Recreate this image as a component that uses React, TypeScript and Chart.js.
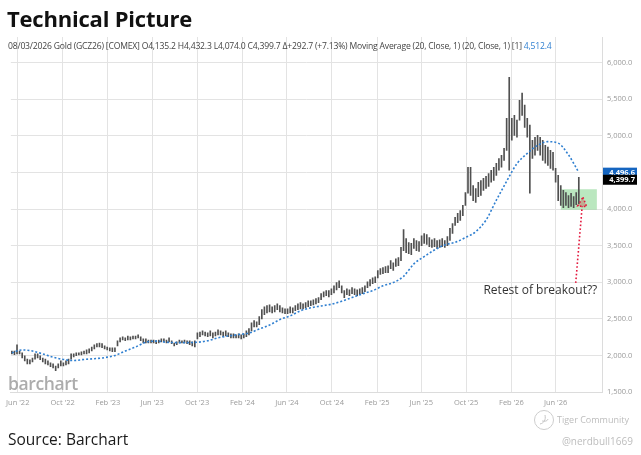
import React, { useEffect, useRef } from 'react';
import { Chart, registerables } from 'chart.js';

Chart.register(...registerables);

// ---------- data ----------
const START_DATE = '2022-05-16'; // week of the first bar
const tickDates = ['2022-06-01', '2022-10-01', '2023-02-01', '2023-06-01', '2023-10-01', '2024-02-01', '2024-06-01', '2024-10-01', '2025-02-01', '2025-06-01', '2025-10-01', '2026-02-01', '2026-06-01'];
const tickLabels = ["Jun '22", "Oct '22", "Feb '23", "Jun '23", "Oct '23", "Feb '24", "Jun '24", "Oct '24", "Feb '25", "Jun '25", "Oct '25", "Feb '26", "Jun '26"];
const priceTicks = [1500, 2000, 2500, 3000, 3500, 4000, 4500, 5000, 5500, 6000];

// weekly highs / lows (GCZ26)
const highs = [
  2060, 2060, 2145, 2060, 2035, 1995, 1950, 1940, 1965, 2020,
  2020, 1995, 1965, 1950, 1925, 1900, 1885, 1855, 1885, 1925,
  1900, 1925, 1950, 2020, 2020, 2035, 2035, 2050, 2060, 2075,
  2090, 2115, 2145, 2160, 2170, 2160, 2130, 2115, 2105, 2105,
  2105, 2200, 2240, 2255, 2240, 2265, 2255, 2265, 2265, 2280,
  2255, 2225, 2225, 2210, 2210, 2210, 2200, 2210, 2225, 2225,
  2210, 2240, 2200, 2170, 2185, 2210, 2200, 2210, 2200, 2200,
  2185, 2200, 2310, 2320, 2335, 2320, 2310, 2335, 2310, 2320,
  2350, 2335, 2320, 2335, 2310, 2295, 2295, 2280, 2295, 2280,
  2295, 2335, 2365, 2445, 2475, 2460, 2530, 2625, 2665, 2680,
  2690, 2665, 2680, 2705, 2680, 2650, 2635, 2635, 2665, 2650,
  2680, 2705, 2720, 2705, 2720, 2745, 2745, 2760, 2775, 2790,
  2845, 2870, 2885, 2885, 2910, 2950, 2995, 3020, 2950, 2885,
  2910, 2895, 2925, 2910, 2895, 2910, 2925, 2950, 3005, 3035,
  3060, 3075, 3160, 3185, 3200, 3215, 3225, 3295, 3265, 3320,
  3335, 3475, 3720, 3595, 3540, 3530, 3595, 3570, 3555, 3635,
  3665, 3650, 3610, 3580, 3595, 3570, 3580, 3595, 3570, 3625,
  3735, 3800, 3885, 3940, 3980, 4050, 4225, 4570, 4570, 4320,
  4280, 4365, 4390, 4420, 4445, 4485, 4530, 4570, 4625, 4690,
  4735, 4830, 5240, 5800, 5240, 5280, 5215, 5485, 5585, 5420,
  5240, 5145, 4940, 4980, 5005, 4980, 4940, 4870, 4845, 4800,
  4775, 4555, 4460, 4320, 4255, 4225, 4185, 4215, 4170, 4225,
  4432.3,
];
const lows = [
  2020, 2010, 2020, 2020, 1965, 1925, 1885, 1885, 1910, 1950,
  1965, 1940, 1910, 1885, 1870, 1845, 1830, 1790, 1830, 1855,
  1855, 1870, 1885, 1950, 1980, 1995, 2005, 2005, 2020, 2020,
  2035, 2060, 2090, 2115, 2115, 2105, 2090, 2075, 2060, 2050,
  2050, 2130, 2185, 2210, 2200, 2210, 2210, 2225, 2225, 2240,
  2200, 2170, 2170, 2170, 2170, 2170, 2160, 2170, 2185, 2185,
  2170, 2185, 2160, 2130, 2145, 2170, 2170, 2170, 2160, 2145,
  2130, 2115, 2225, 2255, 2280, 2265, 2255, 2265, 2240, 2265,
  2280, 2280, 2255, 2265, 2255, 2240, 2240, 2240, 2240, 2225,
  2240, 2255, 2280, 2335, 2390, 2390, 2420, 2500, 2555, 2580,
  2595, 2580, 2595, 2625, 2595, 2580, 2570, 2570, 2580, 2580,
  2610, 2625, 2635, 2635, 2650, 2665, 2680, 2690, 2705, 2720,
  2760, 2800, 2815, 2800, 2830, 2855, 2895, 2925, 2855, 2790,
  2830, 2815, 2845, 2830, 2815, 2830, 2845, 2870, 2925, 2950,
  2980, 2995, 3060, 3105, 3115, 3130, 3130, 3185, 3160, 3215,
  3225, 3295, 3430, 3405, 3390, 3375, 3460, 3430, 3420, 3500,
  3530, 3515, 3485, 3475, 3485, 3460, 3475, 3485, 3475, 3500,
  3570, 3665, 3775, 3815, 3845, 3910, 4050, 4215, 4185, 4115,
  4090, 4170, 4185, 4255, 4280, 4310, 4365, 4390, 4460, 4530,
  4570, 4665, 4800, 4530, 4940, 5005, 4980, 5215, 5280, 5115,
  4980, 4215, 4690, 4735, 4800, 4735, 4665, 4625, 4595, 4555,
  4530, 4365, 4115, 4050, 4020, 4050, 4020, 4035, 4020, 4060,
  4074.0,
];

// 20-week moving average, read at every 4th week
const maWeeks = [0, 4, 8, 12, 16, 20, 24, 28, 32, 36, 40, 44, 48, 52, 56, 60, 64, 68, 72, 76, 80, 84, 88, 92, 96, 100, 104, 108, 112, 116, 120, 124, 128, 132, 136, 140, 144, 148, 152, 156, 160, 164, 168, 172, 176, 180, 184, 188, 192, 196, 200, 204, 208, 212, 216, 220];
const maValues = [
  2035, 2075, 2060, 2020, 1975, 1945, 1930, 1945, 1955, 1970,
  2000, 2060, 2115, 2180, 2195, 2180, 2175, 2175, 2180, 2200,
  2240, 2265, 2285, 2305, 2360, 2415, 2490, 2540, 2610, 2650,
  2675, 2700, 2740, 2790, 2840, 2885, 2950, 2995, 3080, 3250,
  3350, 3440, 3510, 3545, 3610, 3690, 3850, 4120, 4380, 4620,
  4760, 4870, 4920, 4900, 4740, 4500,
];

const retestWeeks = [213, 227];
const retestPrices = [3990, 4270];
const arrowFrom = [218.8, 2990];
const arrowTo = [221.6, 4160];
const noteText = 'Retest of breakout??';
const noteAt = [183, 2884];
const tagValues = [4496.6, 4399.7];
const tagColors = ['#1565c0', '#000000'];

const Y_MIN = 1500;
const Y_MAX = 6350;
const X_MIN = -0.4;
const X_MAX = 229.0;

const weekOf = (d: string) => (Date.parse(d) - Date.parse(START_DATE)) / (7 * 86400000);
const tickWeeks = tickDates.map(weekOf);

const fmt = (v: number) => v.toLocaleString('en-US', { minimumFractionDigits: 1, maximumFractionDigits: 1 });

const overlayPlugin = {
  id: 'overlay',
  beforeDatasetsDraw(chart: any) {
    const { ctx, scales } = chart;
    const x = scales.x, y = scales.y;
    const x0 = x.getPixelForValue(retestWeeks[0]);
    const x1 = x.getPixelForValue(retestWeeks[1]);
    const y0 = y.getPixelForValue(retestPrices[1]);
    const y1 = y.getPixelForValue(retestPrices[0]);
    ctx.save();
    ctx.fillStyle = 'rgba(118, 208, 128, 0.5)';
    ctx.fillRect(x0, y0, x1 - x0, y1 - y0);
    ctx.restore();
  },
  afterDatasetsDraw(chart: any) {
    const { ctx, scales } = chart;
    const x = scales.x, y = scales.y;
    const ax = x.getPixelForValue(arrowFrom[0]);
    const ay = y.getPixelForValue(arrowFrom[1]);
    const bx = x.getPixelForValue(arrowTo[0]);
    const by = y.getPixelForValue(arrowTo[1]);
    const dx = bx - ax, dy = by - ay;
    const len = Math.sqrt(dx * dx + dy * dy);
    const ux = dx / len, uy = dy / len;
    const headLen = 9, headW = 4.5;
    const baseX = bx - ux * headLen, baseY = by - uy * headLen;
    ctx.save();
    ctx.strokeStyle = '#e3173c';
    ctx.lineWidth = 1.6;
    ctx.setLineDash([1.6, 2.2]);
    ctx.beginPath();
    ctx.moveTo(ax, ay);
    ctx.lineTo(baseX, baseY);
    ctx.stroke();
    ctx.beginPath();
    ctx.moveTo(bx, by);
    ctx.lineTo(baseX - uy * headW, baseY + ux * headW);
    ctx.lineTo(baseX + uy * headW, baseY - ux * headW);
    ctx.closePath();
    ctx.fillStyle = 'rgba(200, 60, 60, 0.35)';
    ctx.fill();
    ctx.stroke();
    ctx.setLineDash([]);
    ctx.fillStyle = '#333333';
    ctx.font = '12px "Open Sans"';
    ctx.textAlign = 'left';
    ctx.textBaseline = 'middle';
    ctx.fillText(noteText, x.getPixelForValue(noteAt[0]), y.getPixelForValue(noteAt[1]));
    ctx.restore();
  },
  afterDraw(chart: any) {
    const { ctx, scales, chartArea } = chart;
    const y = scales.y;
    ctx.save();
    // price axis labels
    ctx.fillStyle = '#9a9a9a';
    ctx.font = '7.5px "Open Sans"';
    ctx.textAlign = 'left';
    ctx.textBaseline = 'middle';
    priceTicks.forEach((v) => {
      ctx.fillText(fmt(v), chartArea.right + 5, y.getPixelForValue(v));
    });
    // last value tags
    tagValues.forEach((v, i) => {
      const py = y.getPixelForValue(v);
      ctx.fillStyle = tagColors[i];
      ctx.fillRect(chartArea.right + 1, py - 5, 34, 10);
      ctx.fillStyle = '#ffffff';
      ctx.font = 'bold 7.5px "Open Sans"';
      ctx.textAlign = 'right';
      ctx.textBaseline = 'middle';
      ctx.fillText(fmt(v), chartArea.right + 33, py + 0.5);
    });
    ctx.restore();
  },
};

function GoldChart() {
  const ref = useRef<HTMLCanvasElement | null>(null);
  useEffect(() => {
    if (!ref.current) return;
    const bars = highs.map((h, i) => ({ x: i, y: [lows[i], h] }));
    const ma = maWeeks.map((w, i) => ({ x: w, y: maValues[i] }));
    const chart = new Chart(ref.current, {
      type: 'bar',
      data: {
        datasets: [
          {
            type: 'line',
            data: ma,
            borderColor: '#2f7fd0',
            borderWidth: 1.6,
            borderDash: [2, 2],
            pointRadius: 0,
            cubicInterpolationMode: 'monotone',
            order: 0,
          } as any,
          {
            type: 'bar',
            data: bars,
            backgroundColor: '#505050',
            barThickness: 1,
            grouped: false,
            order: 1,
          } as any,
        ],
      },
      options: {
        animation: false,
        responsive: false,
        maintainAspectRatio: false,
        layout: { padding: { left: 5, top: 7, right: 0, bottom: 0 } },
        plugins: { legend: { display: false }, tooltip: { enabled: false } },
        scales: {
          x: {
            type: 'linear',
            min: X_MIN,
            max: X_MAX,
            offset: false,
            grid: { color: '#e3e3e3', offset: false, drawTicks: false, lineWidth: 1 },
            border: { display: true, color: '#dcdcdc' },
            afterBuildTicks: (scale: any) => {
              scale.ticks = tickWeeks.map((v) => ({ value: v }));
            },
            afterFit: (scale: any) => {
              scale.height = 20;
            },
            ticks: {
              autoSkip: false,
              maxRotation: 0,
              padding: 6,
              color: '#9a9a9a',
              font: { family: 'Open Sans', size: 7.5 },
              callback: (v: any) => {
                const idx = tickWeeks.findIndex((t) => Math.abs(t - v) < 1e-6);
                return idx >= 0 ? tickLabels[idx] : '';
              },
            },
          },
          y: {
            type: 'linear',
            position: 'right',
            min: Y_MIN,
            max: Y_MAX,
            grid: { color: '#e3e3e3', drawTicks: false },
            border: { display: true, color: '#dcdcdc' },
            afterBuildTicks: (scale: any) => {
              scale.ticks = priceTicks.map((v) => ({ value: v }));
            },
            afterFit: (scale: any) => {
              scale.width = 39;
            },
            ticks: { display: false },
          },
        },
      },
      plugins: [overlayPlugin],
    } as any);
    return () => chart.destroy();
  }, []);
  return <canvas ref={ref} width={641} height={382} style={{ position: 'absolute', left: 0, top: 30, width: 641, height: 382 }} />;
}

export default function App() {
  return (
    <div style={{ position: 'fixed', left: 0, top: 0, width: 641, height: 455, background: '#ffffff', overflow: 'hidden', fontFamily: '"Open Sans", sans-serif' }}>
      <GoldChart />
      <div style={{ position: 'absolute', left: 7, top: 4, fontSize: 22, fontWeight: 700, color: '#111', lineHeight: '28px', letterSpacing: -0.2 }}>
        Technical Picture
      </div>
      <div style={{ position: 'absolute', left: 8, top: 41, fontSize: 8.6, color: '#444', whiteSpace: 'nowrap', lineHeight: '11px', letterSpacing: -0.2 }}>
        08/03/2026 Gold (GCZ26) [COMEX] O4,135.2 H4,432.3 L4,074.0 C4,399.7 Δ+292.7 (+7.13%) Moving Average (20, Close, 1) (20, Close, 1) [1]{' '}
        <span style={{ color: '#2f7fd0' }}>4,512.4</span>
      </div>
      <div style={{ position: 'absolute', left: 8, top: 372, fontSize: 17.5, color: '#acacac', fontFamily: '"Open Sans", sans-serif', fontWeight: 600, lineHeight: '22px', letterSpacing: -0.4 }}>
        barchart
      </div>
      <div style={{ position: 'absolute', left: 8, top: 428, fontSize: 15.5, color: '#1a1a1a', lineHeight: '22px' }}>
        Source: Barchart
      </div>
      <svg style={{ position: 'absolute', left: 533, top: 409 }} width={22} height={22} viewBox="0 0 22 22">
        <circle cx={11} cy={11} r={9.5} fill="none" stroke="#cdcdcd" strokeWidth={1} />
        <path d="M7 15 C 11 14, 13 11, 12 6 M9 12 C 11 12, 14 13, 15 10" fill="none" stroke="#c4c4c4" strokeWidth={1} />
      </svg>
      <div style={{ position: 'absolute', left: 557, top: 414, fontSize: 9, color: '#bdbdbd', lineHeight: '12px' }}>
        Tiger Community
      </div>
      <div style={{ position: 'absolute', right: 8, top: 434, fontSize: 10, color: '#bdbdbd', lineHeight: '14px' }}>
        @nerdbull1669
      </div>
    </div>
  );
}
